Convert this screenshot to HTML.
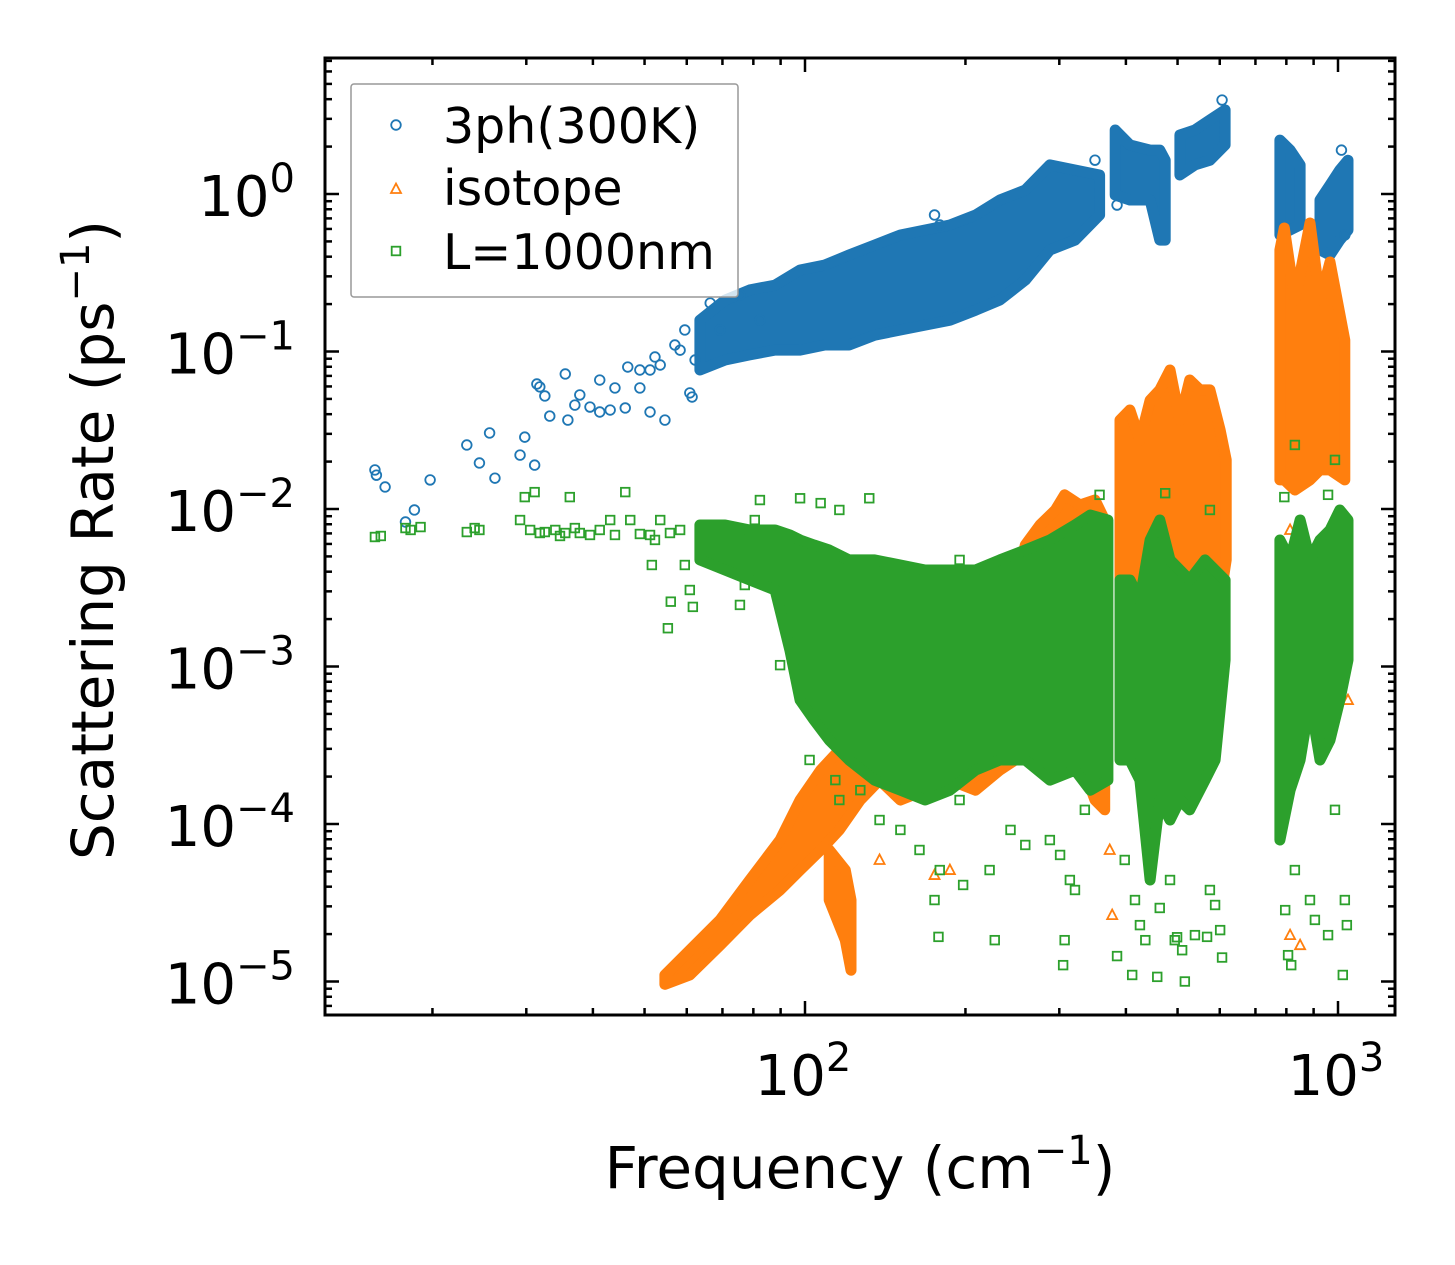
<!DOCTYPE html>
<html><head><meta charset="utf-8"><style>
html,body{margin:0;padding:0;background:#fff;}
svg{display:block;font-family:"DejaVu Sans","Liberation Sans",sans-serif;}
</style></head><body>
<svg id="chart" width="1455" height="1265" viewBox="0 0 1455 1265" xmlns="http://www.w3.org/2000/svg">
<rect width="1455" height="1265" fill="#fff"/>
<g id="marks"></g>
<g id="axes"></g>
</svg>
<script>
// ---------- data ----------
const xTickValues=[100,1000];
const xTickLabels=["2","3"];
const yTickValues=[1,0.1,0.01,0.001,0.0001,0.00001];
const yTickLabels=["0","\u22121","\u22122","\u22123","\u22124","\u22125"];

// 3ph dense band
const blueBandFreq=[63.5,70.8,78.8,87.9,97.9,109,121,135,151,168,187,209,232,259,288,321,357, 382,407,444,463,474, 505,539,575,614, 778,813,849, 925,966,1008,1044];
const blueBandLo=[0.0763,0.0883,0.0951,0.102,0.102,0.110,0.110,0.127,0.137,0.147,0.158,0.183,0.212,0.284,0.441,0.510,0.736, 0.986,0.916,0.916,0.510,0.510, 1.32,1.53,1.64,2.05, 0.549,0.591,0.636, 0.441,0.410,0.510,0.591];
const blueBandHi=[0.158,0.212,0.246,0.264,0.329,0.354,0.410,0.474,0.549,0.591,0.636,0.736,0.916,1.06,1.53,1.42,1.32, 2.55,2.05,1.90,1.90,1.64, 2.37,2.55,2.95,3.42, 2.20,1.90,1.53, 0.916,1.14,1.42,1.64];
const blueBandGroup=[0,0,0,0,0,0,0,0,0,0,0,0,0,0,0,0,0, 1,1,1,1,1, 2,2,2,2, 3,3,3, 4,4,4,4];
const blueFreq=[15.6,15.7,16.3,17.8,18.5,19.8,23.2,24.5,25.6,26.2,29.2,29.8,31.1,31.4,31.8,32.5,33.2,35.5,35.9,37.0,37.8,39.5,41.2,43.1,44.0,46.0,46.5,49.0,51.2,52.3,53.5,54.6,58.3,60.8,61.4,66.4,69.3,75.5,82.3,175,179,350,385,606,1015,1030,41.2,51.2,57.0,59.5,62.2,49.0];
const blueRate=[0.0177,0.0164,0.0138,0.00827,0.00986,0.0153,0.0255,0.0196,0.0304,0.0157,0.0220,0.0286,0.0190,0.0622,0.0596,0.0522,0.0389,0.0720,0.0367,0.0457,0.0530,0.0444,0.0413,0.0425,0.0587,0.0438,0.0797,0.0587,0.0413,0.0923,0.0821,0.0367,0.102,0.0546,0.0514,0.203,0.137,0.228,0.158,0.736,0.636,1.64,0.851,3.95,1.90,0.549,0.0659,0.0763,0.110,0.137,0.0883,0.0763];

// isotope dense band
const orangeBandFreq=[54.6,60.8,69.3,78.8,89.8,97.9,107,116,127,138,151,168,187,209,232,248,259,276,295,307,328,350,365, 111,119,122, 390,407,425,444,463,484,505,527,551,575,601,617, 778,793,830,886,925,966,1030];
const orangeBandLo=[0.0000096,0.000011,0.000017,0.0000264,0.0000381,0.000051,0.0000684,0.0000917,0.000142,0.00019,0.000142,0.000164,0.00019,0.000164,0.00022,0.000255,0.000295,0.000341,0.000255,0.000295,0.000255,0.000142,0.000123, 0.0000329,0.0000183,0.0000118, 0.00147,0.00197,0.000612,0.00147,0.00197,0.00147,0.00082,0.00127,0.00264,0.00197,0.00264,0.00475, 0.0153,0.0153,0.0132,0.0153,0.0177,0.0177,0.0153];
const orangeBandHi=[0.000011,0.0000158,0.0000246,0.0000441,0.0000791,0.000142,0.00022,0.000295,0.000341,0.000395,0.000457,0.000612,0.00082,0.0011,0.00197,0.00306,0.00591,0.00791,0.00986,0.0123,0.0106,0.0114,0.00851, 0.0000684,0.000051,0.0000329, 0.0367,0.0425,0.0274,0.049,0.057,0.0763,0.0367,0.0659,0.057,0.057,0.0318,0.0205, 0.441,0.608,0.212,0.654,0.212,0.370,0.118];
const orangeBandGroup=[0,0,0,0,0,0,0,0,0,0,0,0,0,0,0,0,0,0,0,0,0,0,0, 1,1,1, 2,2,2,2,2,2,2,2,2,2,2,2, 3,3,3,3,3,3,3];
const orangeFreq=[373,377,813,849,1044,1039,138,175,187,813,796];
const orangeRate=[0.0000684,0.0000264,0.0000197,0.000017,0.000612,0.00475,0.0000591,0.0000474,0.000051,0.00736,0.00475];

// L=1000nm dense band
const greenBandFreq=[63.5,70.8,78.8,87.9,93.7,97.9,104,111,121,135,151,168,187,209,232,259,288,321,343,370, 390,407,425,444,463,484,505,527,563,588,614, 778,813,849,886,925,966,1008,1044];
const greenBandLo=[0.00475,0.0041,0.00354,0.00306,0.00127,0.000612,0.000457,0.000341,0.000255,0.00019,0.000164,0.000142,0.000164,0.00022,0.000255,0.000255,0.00019,0.00022,0.000164,0.00019, 0.000255,0.000255,0.00019,0.0000441,0.000142,0.000106,0.000142,0.000123,0.00019,0.000255,0.0011, 0.0000791,0.000164,0.000255,0.000612,0.000255,0.000341,0.000612,0.0011];
const greenBandHi=[0.00791,0.00791,0.00736,0.00736,0.00684,0.00636,0.00591,0.00549,0.00475,0.00475,0.00441,0.0041,0.0041,0.0041,0.00475,0.00549,0.00636,0.00791,0.00916,0.00851, 0.00354,0.00354,0.00264,0.00636,0.00851,0.00475,0.0041,0.00354,0.00475,0.0041,0.00354, 0.00636,0.00475,0.00851,0.00475,0.00636,0.00736,0.00986,0.00851];
const greenBandGroup=[0,0,0,0,0,0,0,0,0,0,0,0,0,0,0,0,0,0,0,0, 1,1,1,1,1,1,1,1,1,1,1, 2,2,2,2,2,2,2,2];
const greenFreq=[15.6,16.0,17.8,18.2,19.0,23.2,24.0,24.5,29.2,29.8,30.5,31.1,31.8,32.5,34.0,34.7,35.5,36.2,37.0,37.8,39.5,41.2,43.1,44.0,46.0,47.0,49.0,51.2,51.6,52.3,53.5,55.8,58.3,59.5,60.8,61.6,55.3,56.0,69.3,75.5,77.1,80.5,82.3,97.9,107,116,132,195,
89.8,102,114,116,127,138,151,164,179,195,222,243,259,288,301,314,321,335,398,416,425,435,463,484,494,510,539,575,588,601,606,796,806,817,830,886,905,958,987,1030,1021,1039,178,227,305,307,385,411,458,516,499,568,198,175,
357,474,830,987,575,793,958];
const greenRate=[0.00664,0.00674,0.00757,0.00736,0.00768,0.00714,0.00757,0.00736,0.00851,0.0119,0.00736,0.0128,0.00704,0.00714,0.00736,0.00674,0.00704,0.0119,0.00757,0.00704,0.00684,0.00736,0.00851,0.00684,0.0128,0.00851,0.00694,0.00684,0.00441,0.00636,0.00851,0.00704,0.00736,0.00441,0.00306,0.00239,0.00175,0.00258,0.00475,0.00246,0.00329,0.00851,0.0114,0.0117,0.0109,0.00986,0.0117,0.00475,
0.00102,0.000255,0.00019,0.000142,0.000164,0.000106,0.0000917,0.0000684,0.000051,0.000142,0.000051,0.0000917,0.0000736,0.0000791,0.0000636,0.0000441,0.0000381,0.000123,0.0000591,0.0000329,0.0000228,0.0000183,0.0000293,0.0000441,0.0000183,0.0000158,0.0000197,0.0000381,0.0000306,0.0000212,0.0000142,0.0000284,0.0000147,0.0000127,0.000051,0.0000329,0.0000246,0.0000197,0.000123,0.0000329,0.000011,0.0000228,0.0000192,0.0000183,0.0000127,0.0000183,0.0000145,0.000011,0.0000107,0.00001,0.0000191,0.0000192,0.000041,0.0000329,
0.0123,0.0126,0.0255,0.0205,0.00986,0.0119,0.0123];

// ---------- scales ----------
const PL=325,PR=1395,PT=58,PB=1015;
const X2=805,XDEC=533,Y0=194,YDEC=157.5;
function xs(f){return X2+(Math.log10(f)-2)*XDEC;}
function ys(v){return Y0-Math.log10(v)*YDEC;}
const NS="http://www.w3.org/2000/svg";
function mk(tag,attrs,parent){const e=document.createElementNS(NS,tag);for(const k in attrs)e.setAttribute(k,attrs[k]);parent.appendChild(e);return e;}
const marks=document.getElementById('marks');
const axes=document.getElementById('axes');

const BLUE="#1f77b4",ORANGE="#ff7f0e",GREEN="#2ca02c";

function drawBand(freq,lo,hi,grp,color,name){
  const groups=[...new Set(grp)];
  groups.forEach(g=>{
    const idx=grp.map((v,i)=>v===g?i:-1).filter(i=>i>=0);
    const top=idx.map(i=>xs(freq[i]).toFixed(1)+","+ys(hi[i]).toFixed(1));
    const bot=idx.slice().reverse().map(i=>xs(freq[i]).toFixed(1)+","+ys(lo[i]).toFixed(1));
    const p=mk('polygon',{points:top.concat(bot).join(' '),fill:color,stroke:color,'stroke-width':11,'stroke-linejoin':'round'},marks);
    
    
  });
}
function marker(kind,x,y,color,parent){
  let e;
  if(kind==='circle'){e=mk('circle',{cx:x,cy:y,r:4.8,fill:'none',stroke:color,'stroke-width':1.8},parent);}
  else if(kind==='tri'){e=mk('polygon',{points:`${x},${y-5.5} ${x-5},${y+4} ${x+5},${y+4}`,fill:'none',stroke:color,'stroke-width':1.8},parent);}
  else {e=mk('rect',{x:x-4.3,y:y-4.3,width:8.6,height:8.6,fill:'none',stroke:color,'stroke-width':1.8},parent);}
  return e;
}
function drawPoints(freq,rate,kind,color,name){
  for(let i=0;i<freq.length;i++){
    const e=marker(kind,xs(freq[i]),ys(rate[i]),color,marks);
    
    
  }
}
drawBand(blueBandFreq,blueBandLo,blueBandHi,blueBandGroup,BLUE,'3ph');
drawPoints(blueFreq,blueRate,'circle',BLUE,'3ph');
drawBand(orangeBandFreq,orangeBandLo,orangeBandHi,orangeBandGroup,ORANGE,'isotope');
drawPoints(orangeFreq,orangeRate,'tri',ORANGE,'isotope');
drawBand(greenBandFreq,greenBandLo,greenBandHi,greenBandGroup,GREEN,'boundary');
drawPoints(greenFreq,greenRate,'square',GREEN,'boundary');

// ---------- axes ----------
const frame=mk('rect',{x:PL,y:PT,width:PR-PL,height:PB-PT,fill:'none',stroke:'#000','stroke-width':3},axes);


for(let d=1;d<=3;d++){for(let m=1;m<=9;m++){
  const v=m*Math.pow(10,d);const x=xs(v);
  if(x<PL+2||x>PR-2)continue;
  const L=(m===1)?14:7;
  const t1=mk('line',{x1:x,y1:PB,x2:x,y2:PB-L,stroke:'#000','stroke-width':2.5},axes);
  
  
  const t2=mk('line',{x1:x,y1:PT,x2:x,y2:PT+L,stroke:'#000','stroke-width':2.5},axes);
  
  
}}
for(let d=-6;d<=1;d++){for(let m=1;m<=9;m++){
  const v=m*Math.pow(10,d);const y=ys(v);
  if(y<PT+2||y>PB-2)continue;
  const L=(m===1)?14:7;
  const t1=mk('line',{x1:PL,y1:y,x2:PL+L,y2:y,stroke:'#000','stroke-width':2.5},axes);
  
  
  const t2=mk('line',{x1:PR,y1:y,x2:PR-L,y2:y,stroke:'#000','stroke-width':2.5},axes);
  
  
}}
xTickValues.forEach((v,i)=>{
  const t=mk('text',{x:xs(v)-2,y:1095,'text-anchor':'middle','font-size':56,fill:'#000'},axes);
  
  
  t.innerHTML='10<tspan font-size="40" dy="-24">'+xTickLabels[i]+'</tspan>';
});
yTickValues.forEach((v,i)=>{
  const t=mk('text',{x:295,y:ys(v)+22,'text-anchor':'end','font-size':56,fill:'#000'},axes);
  
  
  t.innerHTML='10<tspan font-size="40" dy="-24">'+yTickLabels[i]+'</tspan>';
});
</script>
<svg style="position:absolute;left:0;top:0" width="1455" height="1265" xmlns="http://www.w3.org/2000/svg" font-family="DejaVu Sans, Liberation Sans, sans-serif">
<text x="860" y="1188" text-anchor="middle" font-size="58" fill="#000">Frequency (cm<tspan font-size="40" dy="-24">−1</tspan><tspan dy="24">)</tspan></text>
<text transform="translate(113,540) rotate(-90)" text-anchor="middle" font-size="58" fill="#000">Scattering Rate (ps<tspan font-size="40" dy="-24">−1</tspan><tspan dy="24">)</tspan></text>
<g>
<rect x="351" y="84" width="387" height="213" rx="3" fill="#fff" fill-opacity="0.8" stroke="#999" stroke-width="1.5"/>
<g>
<circle cx="396" cy="125" r="4.8" fill="none" stroke="#1f77b4" stroke-width="1.8"/>
<text x="443" y="143" font-size="49" fill="#000">3ph(300K)</text></g>
<g>
<polygon points="396,183.5 391,193 401,193" fill="none" stroke="#ff7f0e" stroke-width="1.8"/>
<text x="443" y="205" font-size="49" fill="#000">isotope</text></g>
<g>
<rect x="391.7" y="246.7" width="8.6" height="8.6" fill="none" stroke="#2ca02c" stroke-width="1.8"/>
<text x="443" y="269" font-size="49" fill="#000">L=1000nm</text></g>
</g>
</svg>
</body></html>
